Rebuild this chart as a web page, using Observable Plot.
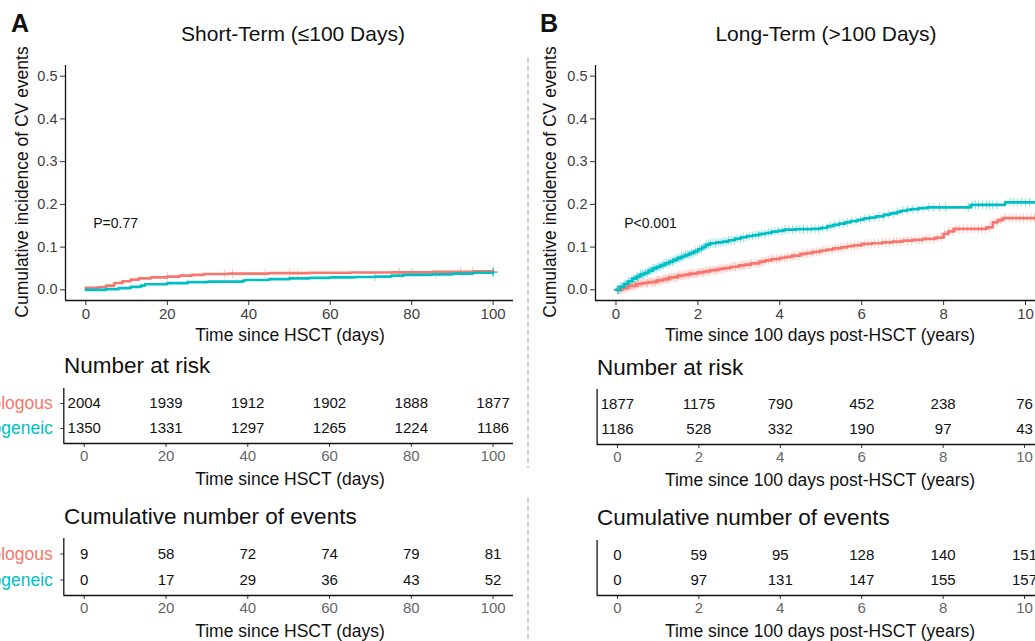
<!DOCTYPE html>
<html><head><meta charset="utf-8">
<script src="https://cdn.jsdelivr.net/npm/d3@7"></script>
<script src="https://cdn.jsdelivr.net/npm/@observablehq/plot@0.6"></script>
<style>
html,body{margin:0;padding:0;background:#fff;}
#root{position:relative;width:1035px;height:641px;overflow:hidden;background:#fff;font-family:"Liberation Sans",Arial,sans-serif;}
#root svg{position:absolute;overflow:visible;}
</style></head><body><div id="root"></div>
<script>
// ---------- data ----------
const groups = ["Autologous", "Allogeneic"];
const groupColors = ["#F8766D", "#00BFC4"];

const xTicksDays = [0, 20, 40, 60, 80, 100];
const xTicksYears = [0, 2, 4, 6, 8, 10];
const yTicks = [0, 0.1, 0.2, 0.3, 0.4, 0.5];

// Panel A: short-term cumulative incidence (days)
const shortAutoT = [0, 3, 5, 7, 9, 11, 13, 16, 20, 23, 26, 29, 35, 45, 55, 65, 75, 85, 95, 100];
const shortAutoV = [0.0045, 0.006, 0.010, 0.016, 0.020, 0.024, 0.027, 0.029, 0.031, 0.033, 0.035, 0.037, 0.038, 0.039, 0.040, 0.0405, 0.041, 0.042, 0.043, 0.0435];
const shortAlloT = [0, 5, 8, 11, 13.5, 14.5, 20, 25, 30, 38.5, 39, 45, 50, 55, 60, 66, 71, 75, 78, 85, 90, 95, 100];
const shortAlloV = [0, 0.0015, 0.004, 0.007, 0.010, 0.013, 0.0155, 0.018, 0.019, 0.021, 0.023, 0.025, 0.027, 0.028, 0.029, 0.030, 0.031, 0.033, 0.035, 0.036, 0.038, 0.040, 0.041];
const shortAutoCensor = [20, 34, 36, 44, 50, 52, 77, 80, 92, 95, 100];
const shortAlloCensor = [71, 86, 100, 100, 100];

// Panel B: long-term cumulative incidence (years)
const longAutoT = [0, 0.15, 0.3, 0.5, 0.65, 0.8, 1, 1.15, 1.3, 1.5, 1.65, 1.8, 2, 2.15, 2.3, 2.5, 2.65, 2.8, 3, 3.15, 3.3, 3.5, 3.65, 3.8, 4, 4.15, 4.3, 4.5, 4.65, 4.8, 5, 5.15, 5.3, 5.5, 5.65, 5.8, 6, 6.25, 6.5, 6.75, 7, 7.25, 7.5, 7.8, 8, 8.12, 8.25, 9.05, 9.2, 9.32, 9.45, 10.5];
const longAutoV = [0, 0.004, 0.009, 0.014, 0.016, 0.018, 0.022, 0.025, 0.029, 0.033, 0.035, 0.038, 0.041, 0.043, 0.046, 0.049, 0.051, 0.054, 0.057, 0.059, 0.062, 0.066, 0.069, 0.072, 0.075, 0.077, 0.080, 0.084, 0.086, 0.089, 0.092, 0.094, 0.097, 0.0995, 0.102, 0.104, 0.1075, 0.109, 0.111, 0.113, 0.115, 0.117, 0.119, 0.122, 0.131, 0.137, 0.1425, 0.146, 0.158, 0.163, 0.168, 0.168];
const longAlloT = [0, 0.1, 0.2, 0.3, 0.4, 0.5, 0.6, 0.7, 0.8, 0.9, 1.0, 1.1, 1.2, 1.3, 1.4, 1.5, 1.6, 1.7, 1.8, 1.9, 2.0, 2.1, 2.2, 2.3, 2.45, 2.6, 2.75, 2.9, 3.05, 3.2, 3.35, 3.5, 3.65, 3.8, 3.95, 4.1, 4.4, 4.8, 5.0, 5.16, 5.3, 5.45, 5.6, 5.73, 5.9, 6.05, 6.2, 6.35, 6.54, 6.7, 6.85, 6.95, 7.1, 7.2, 7.4, 7.6, 8.66, 9.5, 10.5];
const longAlloV = [0, 0.007, 0.014, 0.020, 0.026, 0.031, 0.036, 0.040, 0.045, 0.050, 0.054, 0.058, 0.062, 0.066, 0.070, 0.074, 0.078, 0.082, 0.086, 0.090, 0.095, 0.100, 0.106, 0.109, 0.111, 0.113, 0.116, 0.120, 0.123, 0.126, 0.128, 0.131, 0.133, 0.136, 0.138, 0.141, 0.142, 0.1425, 0.145, 0.149, 0.152, 0.155, 0.158, 0.161, 0.164, 0.167, 0.169, 0.172, 0.176, 0.179, 0.182, 0.185, 0.187, 0.189, 0.191, 0.193, 0.199, 0.2045, 0.2045];
const longAutoCensor = [0.03,0.05,0.09,0.12,0.16,0.2,0.24,0.27,0.3,0.33,0.37,0.41,0.44,0.48,0.52,0.55,0.59,0.63,0.66,0.7,0.74,0.77,0.81,0.86,0.89,0.93,0.97,1.01,1.04,1.08,1.13,1.17,1.21,1.25,1.28,1.31,1.36,1.4,1.44,1.49,1.52,1.56,1.6,1.64,1.69,1.73,1.77,1.81,1.85,1.88,1.93,1.97,2.02,2.06,2.1,2.14,2.19,2.23,2.27,2.31,2.37,2.42,2.46,2.51,2.56,2.6,2.66,2.71,2.77,2.83,2.88,2.92,2.98,3.04,3.09,3.13,3.2,3.26,3.31,3.37,3.43,3.49,3.55,3.6,3.66,3.73,3.8,3.86,3.92,3.98,4.05,4.12,4.19,4.27,4.33,4.39,4.47,4.55,4.61,4.68,4.76,4.83,4.9,4.97,5.05,5.12,5.2,5.28,5.36,5.43,5.5,5.57,5.66,5.74,5.82,5.9,5.98,6.06,6.15,6.23,6.32,6.41,6.5,6.58,6.68,6.77,6.86,6.94,7.03,7.12,7.22,7.31,7.4,7.48,7.57,7.66,7.76,7.85,7.94,8.02,8.12,8.21,8.3,8.38,8.48,8.57,8.67,8.76,8.85,8.93,9.03,9.12,9.22,9.31,9.4,9.5,9.6,9.68,9.77,9.86,9.95,10.04,10.13,10.22,10.31,10.4];
const longAlloCensor = [0.04,0.06,0.1,0.14,0.18,0.23,0.27,0.31,0.35,0.39,0.43,0.47,0.52,0.56,0.6,0.64,0.68,0.72,0.77,0.81,0.86,0.9,0.94,0.98,1.03,1.07,1.12,1.16,1.2,1.24,1.29,1.33,1.38,1.42,1.47,1.51,1.56,1.6,1.65,1.7,1.75,1.79,1.84,1.89,1.94,1.99,2.04,2.09,2.15,2.2,2.26,2.31,2.37,2.43,2.5,2.56,2.63,2.69,2.75,2.82,2.89,2.96,3.04,3.11,3.18,3.25,3.33,3.41,3.48,3.56,3.64,3.72,3.8,3.88,3.96,4.05,4.13,4.22,4.31,4.4,4.49,4.58,4.67,4.77,4.86,4.95,5.05,5.15,5.24,5.34,5.45,5.55,5.65,5.76,5.86,5.97,6.08,6.19,6.3,6.42,6.53,6.65,6.77,6.88,7.0,7.12,7.25,7.37,7.5,7.63,7.76,7.9,8.05,8.6,8.7,8.78,8.85,8.95,9.05,9.12,9.2,9.3,9.62,9.7,9.8,9.9,10.0,10.1];

// Tables
const riskAutoShort = [2004, 1939, 1912, 1902, 1888, 1877];
const riskAlloShort = [1350, 1331, 1297, 1265, 1224, 1186];
const eventsAutoShort = [9, 58, 72, 74, 79, 81];
const eventsAlloShort = [0, 17, 29, 36, 43, 52];
const riskAutoLong = [1877, 1175, 790, 452, 238, 76];
const riskAlloLong = [1186, 528, 332, 190, 97, 43];
const eventsAutoLong = [0, 59, 95, 128, 140, 151];
const eventsAlloLong = [0, 97, 131, 147, 155, 157];

const pShort = {x: 1.8, y: 0.155, label: "P=0.77"};
const pLong = {x: 0.2, y: 0.155, label: "P<0.001"};

// ---------- helpers ----------
const FONT = "Liberation Sans, Arial, Helvetica, sans-serif";
const root = document.getElementById("root");
const rowLevel = {Autologous: 2, Allogeneic: 1};
const plusSym = {draw(ctx, size) { const r = Math.sqrt(size) / 2; ctx.moveTo(-r, 0); ctx.lineTo(r, 0); ctx.moveTo(0, -r); ctx.lineTo(0, r); }};

function stepAt(T, V, t) { const i = d3.bisectRight(T, t) - 1; return V[Math.max(0, i)]; }

function place(el, left, top) { el.style.left = left + "px"; el.style.top = top + "px"; root.appendChild(el); }

function curvePlot({left, width, mL, mR, xDomain, xTicks, autoT, autoV, alloT, alloV, autoC, alloC, p}) {
  const steps = [
    ...autoT.map((t, i) => ({t, v: autoV[i], g: "Autologous"})),
    ...alloT.map((t, i) => ({t, v: alloV[i], g: "Allogeneic"}))
  ];
  const cens = [
    ...autoC.map(t => ({t, v: stepAt(autoT, autoV, t), g: "Autologous"})),
    ...alloC.map(t => ({t, v: stepAt(alloT, alloV, t), g: "Allogeneic"}))
  ];
  const yDom = [-0.025, 0.525];
  const pl = Plot.plot({
    width, height: 320, marginLeft: mL, marginRight: mR, marginTop: 65, marginBottom: 20,
    x: {domain: xDomain}, y: {domain: yDom},
    color: {domain: groups, range: groupColors},
    style: {fontFamily: FONT, fontSize: "15px", overflow: "visible", background: "transparent"},
    marks: [
      Plot.axisX({ticks: xTicks, tickSize: 5, tickPadding: 3, fontSize: 15, fill: "#404040", stroke: "#333", label: null}),
      Plot.axisY({ticks: yTicks, tickSize: 5, tickPadding: 3, fontSize: 14.5, fill: "#404040", stroke: "#333", tickFormat: d3.format(".1f"), label: null}),
      Plot.ruleY([yDom[0]], {stroke: "#111", strokeWidth: 1.3}),
      Plot.ruleX([xDomain[0]], {stroke: "#111", strokeWidth: 1.3}),
      Plot.dot(cens, {x: "t", y: "v", stroke: "g", symbol: plusSym, r: 5, strokeWidth: 1, strokeOpacity: 0.45, fill: "none"}),
      Plot.line(steps, {x: "t", y: "v", z: "g", stroke: "g", curve: "step-after", strokeWidth: 2.7}),
      Plot.text([p], {x: "x", y: "y", text: "label", textAnchor: "start", fontSize: 14, fill: "#111"})
    ]
  });
  place(pl, left, 0);
}

function tablePlot({left, top, width, mL, mR, frameTop, frameBottom, xDomain, xTicks, autoVals, alloVals, xTicksVals, labels}) {
  const rows = [
    ...autoVals.map((n, i) => ({t: xTicksVals[i], n, g: "Autologous"})),
    ...alloVals.map((n, i) => ({t: xTicksVals[i], n, g: "Allogeneic"}))
  ];
  const height = frameBottom - top + 24;
  const yDom = [0.4, 2.6];
  const pl = Plot.plot({
    width, height, marginLeft: mL, marginRight: mR, marginTop: frameTop - top, marginBottom: height - (frameBottom - top),
    x: {domain: xDomain}, y: {domain: yDom, axis: labels ? undefined : null},
    color: {domain: groups, range: groupColors},
    style: {fontFamily: FONT, fontSize: "15px", overflow: "visible", background: "transparent"},
    marks: [
      Plot.axisX({ticks: xTicks, tickSize: 4, tickPadding: 3, fontSize: 15, fill: "#666", stroke: "#333", label: null}),
      labels ? Plot.axisY({ticks: [1, 2], tickSize: 3, tickFormat: () => "", stroke: "#333", label: null}) : null,
      labels ? Plot.text(groups, {y: g => rowLevel[g], text: g => g, fill: g => g, frameAnchor: "left", dx: -11, textAnchor: "end", fontSize: 17.5}) : null,
      Plot.ruleY([yDom[0]], {stroke: "#111", strokeWidth: 1.3}),
      Plot.ruleX([xDomain[0]], {stroke: "#111", strokeWidth: 1.3}),
      Plot.text(rows, {x: "t", y: d => rowLevel[d.g], text: d => String(d.n), fontSize: 15, fill: "#111"})
    ]
  });
  place(pl, left, top);
}

// ---------- plots ----------
curvePlot({left: 0, width: 525, mL: 65, mR: 12, xDomain: [-5, 105], xTicks: xTicksDays,
  autoT: shortAutoT, autoV: shortAutoV, alloT: shortAlloT, alloV: shortAlloV,
  autoC: shortAutoCensor, alloC: shortAlloCensor, p: pShort});
curvePlot({left: 530, width: 520, mL: 65, mR: 4.5, xDomain: [-0.5, 10.5], xTicks: xTicksYears,
  autoT: longAutoT, autoV: longAutoV, alloT: longAlloT, alloV: longAlloV,
  autoC: longAutoCensor, alloC: longAlloCensor, p: pLong});

tablePlot({left: 0, top: 380, width: 525, mL: 63.3, mR: 12, frameTop: 388, frameBottom: 443, xDomain: [-5, 105], xTicks: xTicksDays,
  autoVals: riskAutoShort, alloVals: riskAlloShort, xTicksVals: xTicksDays, labels: true});
tablePlot({left: 0, top: 530, width: 525, mL: 63.3, mR: 12, frameTop: 538, frameBottom: 595, xDomain: [-5, 105], xTicks: xTicksDays,
  autoVals: eventsAutoShort, alloVals: eventsAlloShort, xTicksVals: xTicksDays, labels: true});
tablePlot({left: 530, top: 381, width: 520, mL: 66.6, mR: 5.6, frameTop: 389, frameBottom: 444, xDomain: [-0.5, 10.5], xTicks: xTicksYears,
  autoVals: riskAutoLong, alloVals: riskAlloLong, xTicksVals: xTicksYears, labels: false});
tablePlot({left: 530, top: 532, width: 520, mL: 66.6, mR: 5.6, frameTop: 540, frameBottom: 595, xDomain: [-0.5, 10.5], xTicks: xTicksYears,
  autoVals: eventsAutoLong, alloVals: eventsAlloLong, xTicksVals: xTicksYears, labels: false});

// ---------- overlay text ----------
const ov = d3.create("svg").attr("width", 1035).attr("height", 641)
  .style("left", "0px").style("top", "0px").style("font-family", FONT);
root.appendChild(ov.node());

ov.append("line").attr("x1", 528).attr("x2", 528).attr("y1", 58).attr("y2", 468)
  .attr("stroke", "#999").attr("stroke-width", 1).attr("stroke-dasharray", "5,3");
ov.append("line").attr("x1", 528).attr("x2", 528).attr("y1", 498).attr("y2", 641)
  .attr("stroke", "#999").attr("stroke-width", 1).attr("stroke-dasharray", "5,3");

const labelsText = [
  {t: "A", x: 11, y: 32, s: 25, w: "bold", a: "start"},
  {t: "B", x: 540, y: 32, s: 25, w: "bold", a: "start"},
  {t: "Short-Term (≤100 Days)", x: 293, y: 41, s: 21, a: "middle"},
  {t: "Long-Term (>100 Days)", x: 826, y: 41, s: 21, a: "middle"},
  {t: "Cumulative incidence of CV events", x: 28, y: 182, s: 17.5, a: "middle", r: true},
  {t: "Cumulative incidence of CV events", x: 556, y: 182, s: 17.5, a: "middle", r: true},
  {t: "Time since HSCT (days)", x: 290, y: 341, s: 17.5, a: "middle"},
  {t: "Time since 100 days post-HSCT (years)", x: 820, y: 341, s: 17.5, a: "middle"},
  {t: "Number at risk", x: 64, y: 373, s: 22.5, a: "start"},
  {t: "Number at risk", x: 597, y: 375, s: 22.5, a: "start"},
  {t: "Time since HSCT (days)", x: 290, y: 485, s: 17.5, a: "middle"},
  {t: "Time since 100 days post-HSCT (years)", x: 820, y: 486, s: 17.5, a: "middle"},
  {t: "Cumulative number of events", x: 64, y: 524, s: 22.5, a: "start"},
  {t: "Cumulative number of events", x: 597, y: 525, s: 22.5, a: "start"},
  {t: "Time since HSCT (days)", x: 290, y: 637, s: 17.5, a: "middle"},
  {t: "Time since 100 days post-HSCT (years)", x: 820, y: 637, s: 17.5, a: "middle"}
];
for (const L of labelsText) {
  const el = ov.append("text").text(L.t)
    .attr("font-size", L.s).attr("font-weight", L.w || "normal")
    .attr("text-anchor", L.a).attr("fill", "#111");
  if (L.r) el.attr("transform", `translate(${L.x},${L.y}) rotate(-90)`);
  else el.attr("x", L.x).attr("y", L.y);
}
</script></body></html>
